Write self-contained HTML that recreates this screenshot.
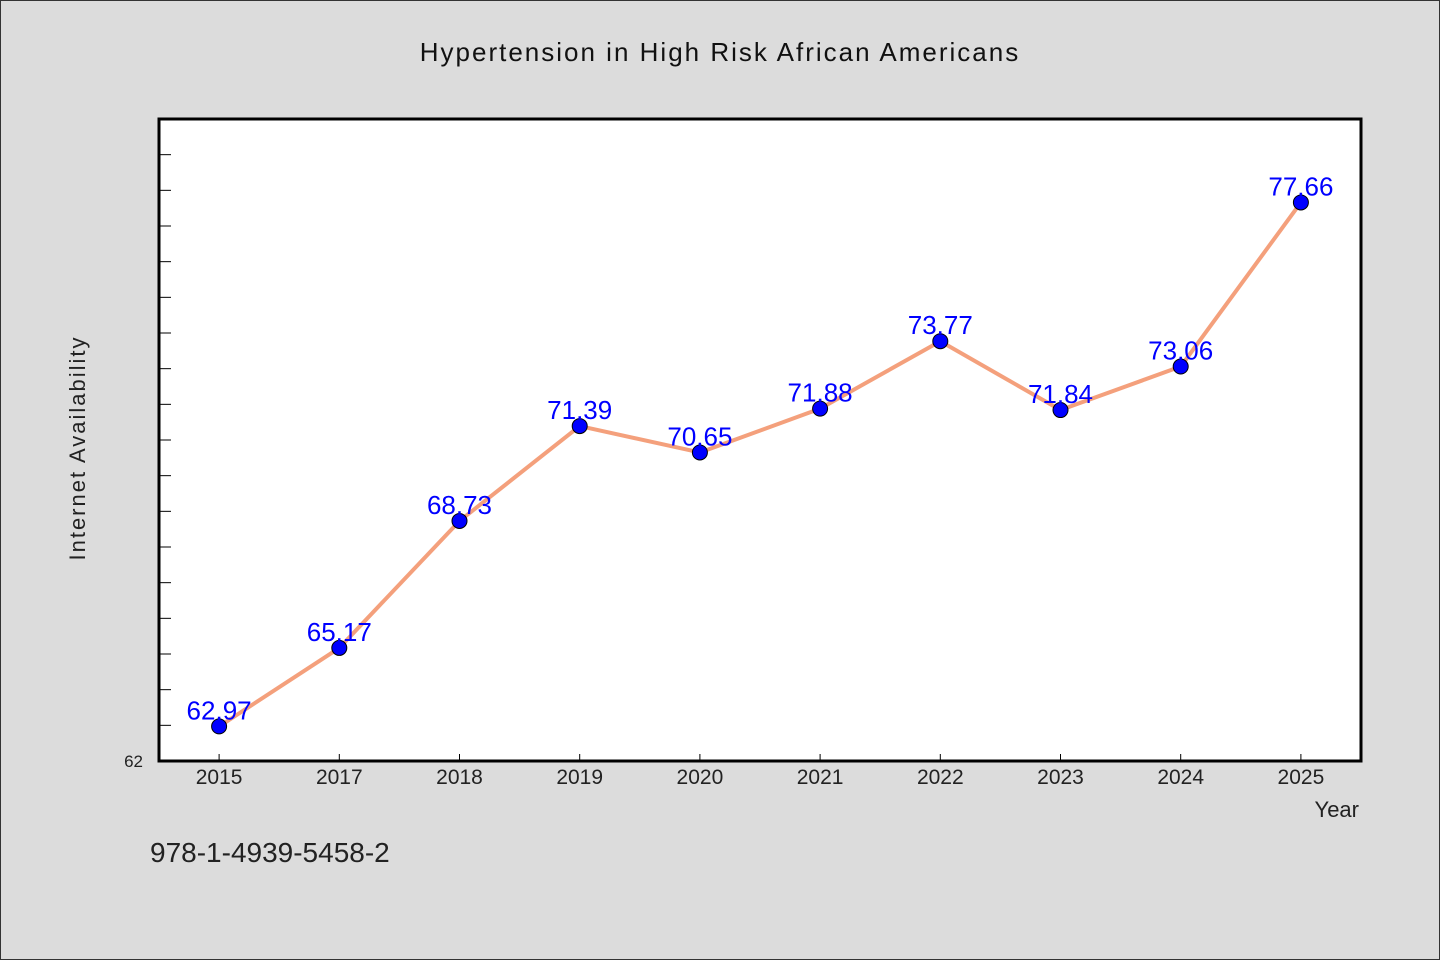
<!DOCTYPE html>
<html><head><meta charset="utf-8"><style>
body{margin:0;background:#dcdcdc;}
svg{display:block;font-family:"WenQuanYi Zen Hei","Liberation Sans",sans-serif;}
</style></head><body>
<svg width="1440" height="960">
<rect x="0.5" y="0.5" width="1439" height="959" fill="#dcdcdc" stroke="#333"/>
<text x="720" y="61" text-anchor="middle" font-size="26" fill="#111" letter-spacing="2">Hypertension in High Risk African Americans</text>
<rect x="159" y="119" width="1202" height="642" fill="#fff"/>
<g id="ticks"></g>
<g id="series"></g>
<rect x="159" y="119" width="1202" height="642" fill="none" stroke="#000" stroke-width="3"/>
<text x="143" y="767" text-anchor="end" font-size="17" fill="#222">62</text>
<text x="85" y="448" text-anchor="middle" font-size="22" fill="#222" letter-spacing="2" transform="rotate(-90 85 448)">Internet Availability</text>
<text x="1359" y="817" text-anchor="end" font-size="22" fill="#222">Year</text>
<text x="150" y="862" font-size="28" fill="#222">978-1-4939-5458-2</text>
</svg>
<script>
const categories=["2015","2017","2018","2019","2020","2021","2022","2023","2024","2025"];
const values=[62.97,65.17,68.73,71.39,70.65,71.88,73.77,71.84,73.06,77.66];
const yMin=62,yMax=80;
const L=159,R=1361,T=119,B=761;
const ns="http://www.w3.org/2000/svg";
const band=(R-L)/categories.length;
function x(i){return L+band*(i+0.5);}
function y(v){return B-(v-yMin)/(yMax-yMin)*(B-T);}
function mk(t,a){const e=document.createElementNS(ns,t);for(const k in a)e.setAttribute(k,a[k]);return e;}
const tk=document.getElementById('ticks'),se=document.getElementById('series');
for(let v=yMin+1;v<yMax;v++){
 const l=mk('line',{x1:L,x2:L+12,y1:y(v),y2:y(v),stroke:'#000','stroke-width':1});
 
 
 tk.appendChild(l);
}
categories.forEach((c,i)=>{
 const l=mk('line',{x1:x(i),x2:x(i),y1:B-7,y2:B,stroke:'#000','stroke-width':1});
 
 
 tk.appendChild(l);
 const t=mk('text',{x:x(i),y:B+23,'text-anchor':'middle','font-size':21,fill:'#222'});
 t.textContent=c;
 
 
 tk.appendChild(t);
});
const pl=mk('polyline',{points:values.map((v,i)=>x(i)+','+y(v)).join(' '),fill:'none',stroke:'#f4a07c','stroke-width':4,'stroke-linejoin':'round'});


se.appendChild(pl);
values.forEach((v,i)=>{
 const c=mk('circle',{cx:x(i),cy:y(v),r:7.5,fill:'#0000ff',stroke:'#000','stroke-width':1});
 
 
 se.appendChild(c);
});
values.forEach((v,i)=>{
 const t=mk('text',{x:x(i),y:y(v)-7,'text-anchor':'middle','font-size':26,fill:'#0000ff'});
 t.textContent=v.toFixed(2);
 
 
 se.appendChild(t);
});
</script>
</body></html>
